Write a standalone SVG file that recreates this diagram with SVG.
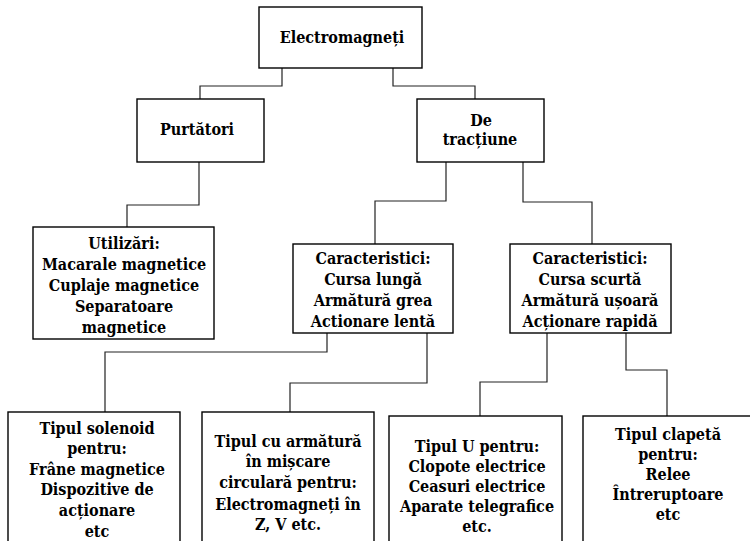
<svg xmlns="http://www.w3.org/2000/svg" width="750" height="541" viewBox="0 0 750 541">
<style>
.b{fill:#fff;stroke:#000;stroke-width:1.4}
.c{fill:none;stroke:#222;stroke-width:1.2}
text{font-family:"DejaVu Serif Condensed","DejaVu Serif",serif;font-stretch:condensed;font-weight:bold;font-size:16px;fill:#000;text-anchor:middle}
</style>
<rect width="750" height="541" fill="#fff"/>
<g id="connectors">
<polyline class="c" points="282,68 282,86 200,86 200,99"/>
<polyline class="c" points="393,68 393,86 475,86 475,99"/>
<polyline class="c" points="199,162 199,205 127,205 127,227"/>
<polyline class="c" points="446,162 446,201 375,201 375,244"/>
<polyline class="c" points="523,162 523,202 592,202 592,244"/>
<polyline class="c" points="327,333 327,352 105,352 105,412"/>
<polyline class="c" points="427,333 427,383 290,383 290,412"/>
<polyline class="c" points="547,333 547,382 480,382 480,416"/>
<polyline class="c" points="626,333 626,370 667,370 667,416"/>
</g>
<g id="n-electromagneti">
<rect class="b" x="259" y="7" width="163" height="61"/>
<text x="342" y="43">Electromagneți</text>
</g>
<g id="n-purtatori">
<rect class="b" x="137" y="99" width="127" height="63"/>
<text x="197" y="135">Purtători</text>
</g>
<g id="n-tractiune">
<rect class="b" x="417" y="99" width="127" height="63"/>
<text x="481" y="126">De</text>
<text x="480" y="145">tracțiune</text>
</g>
<g id="n-utilizari">
<rect class="b" x="33" y="227" width="181" height="112"/>
<text x="124" y="249">Utilizări:</text>
<text x="124" y="270">Macarale magnetice</text>
<text x="124" y="291">Cuplaje magnetice</text>
<text x="124" y="312">Separatoare</text>
<text x="124" y="333">magnetice</text>
</g>
<g id="n-car-lunga">
<rect class="b" x="293" y="244" width="160" height="89"/>
<text x="373" y="264">Caracteristici:</text>
<text x="373" y="285">Cursa lungă</text>
<text x="373" y="306">Armătură grea</text>
<text x="373" y="327">Actionare lentă</text>
</g>
<g id="n-car-scurta">
<rect class="b" x="510" y="244" width="161" height="89"/>
<text x="590" y="264">Caracteristici:</text>
<text x="590" y="285">Cursa scurtă</text>
<text x="590" y="306">Armătură ușoară</text>
<text x="590" y="327">Acționare rapidă</text>
</g>
<g id="n-solenoid">
<rect class="b" x="8" y="412" width="172" height="140"/>
<text x="97" y="434">Tipul solenoid</text>
<text x="97" y="454">pentru:</text>
<text x="97" y="475">Frâne magnetice</text>
<text x="97" y="495">Dispozitive de</text>
<text x="97" y="516">acționare</text>
<text x="97" y="537">etc</text>
</g>
<g id="n-circulara">
<rect class="b" x="202" y="412" width="172" height="140"/>
<text x="288" y="447">Tipul cu armătură</text>
<text x="288" y="467">în mișcare</text>
<text x="288" y="488">circulară pentru:</text>
<text x="288" y="510">Electromagneți în</text>
<text x="288" y="530">Z, V etc.</text>
</g>
<g id="n-tipul-u">
<rect class="b" x="389" y="416" width="173" height="140"/>
<text x="477" y="452">Tipul U pentru:</text>
<text x="477" y="472">Clopote electrice</text>
<text x="477" y="492">Ceasuri electrice</text>
<text x="477" y="512">Aparate telegrafice</text>
<text x="477" y="532">etc.</text>
</g>
<g id="n-clapeta">
<rect class="b" x="583" y="416" width="180" height="140"/>
<text x="668" y="440">Tipul clapetă</text>
<text x="668" y="460">pentru:</text>
<text x="668" y="480">Relee</text>
<text x="668" y="500">Întreruptoare</text>
<text x="668" y="520">etc</text>
</g>
</svg>
